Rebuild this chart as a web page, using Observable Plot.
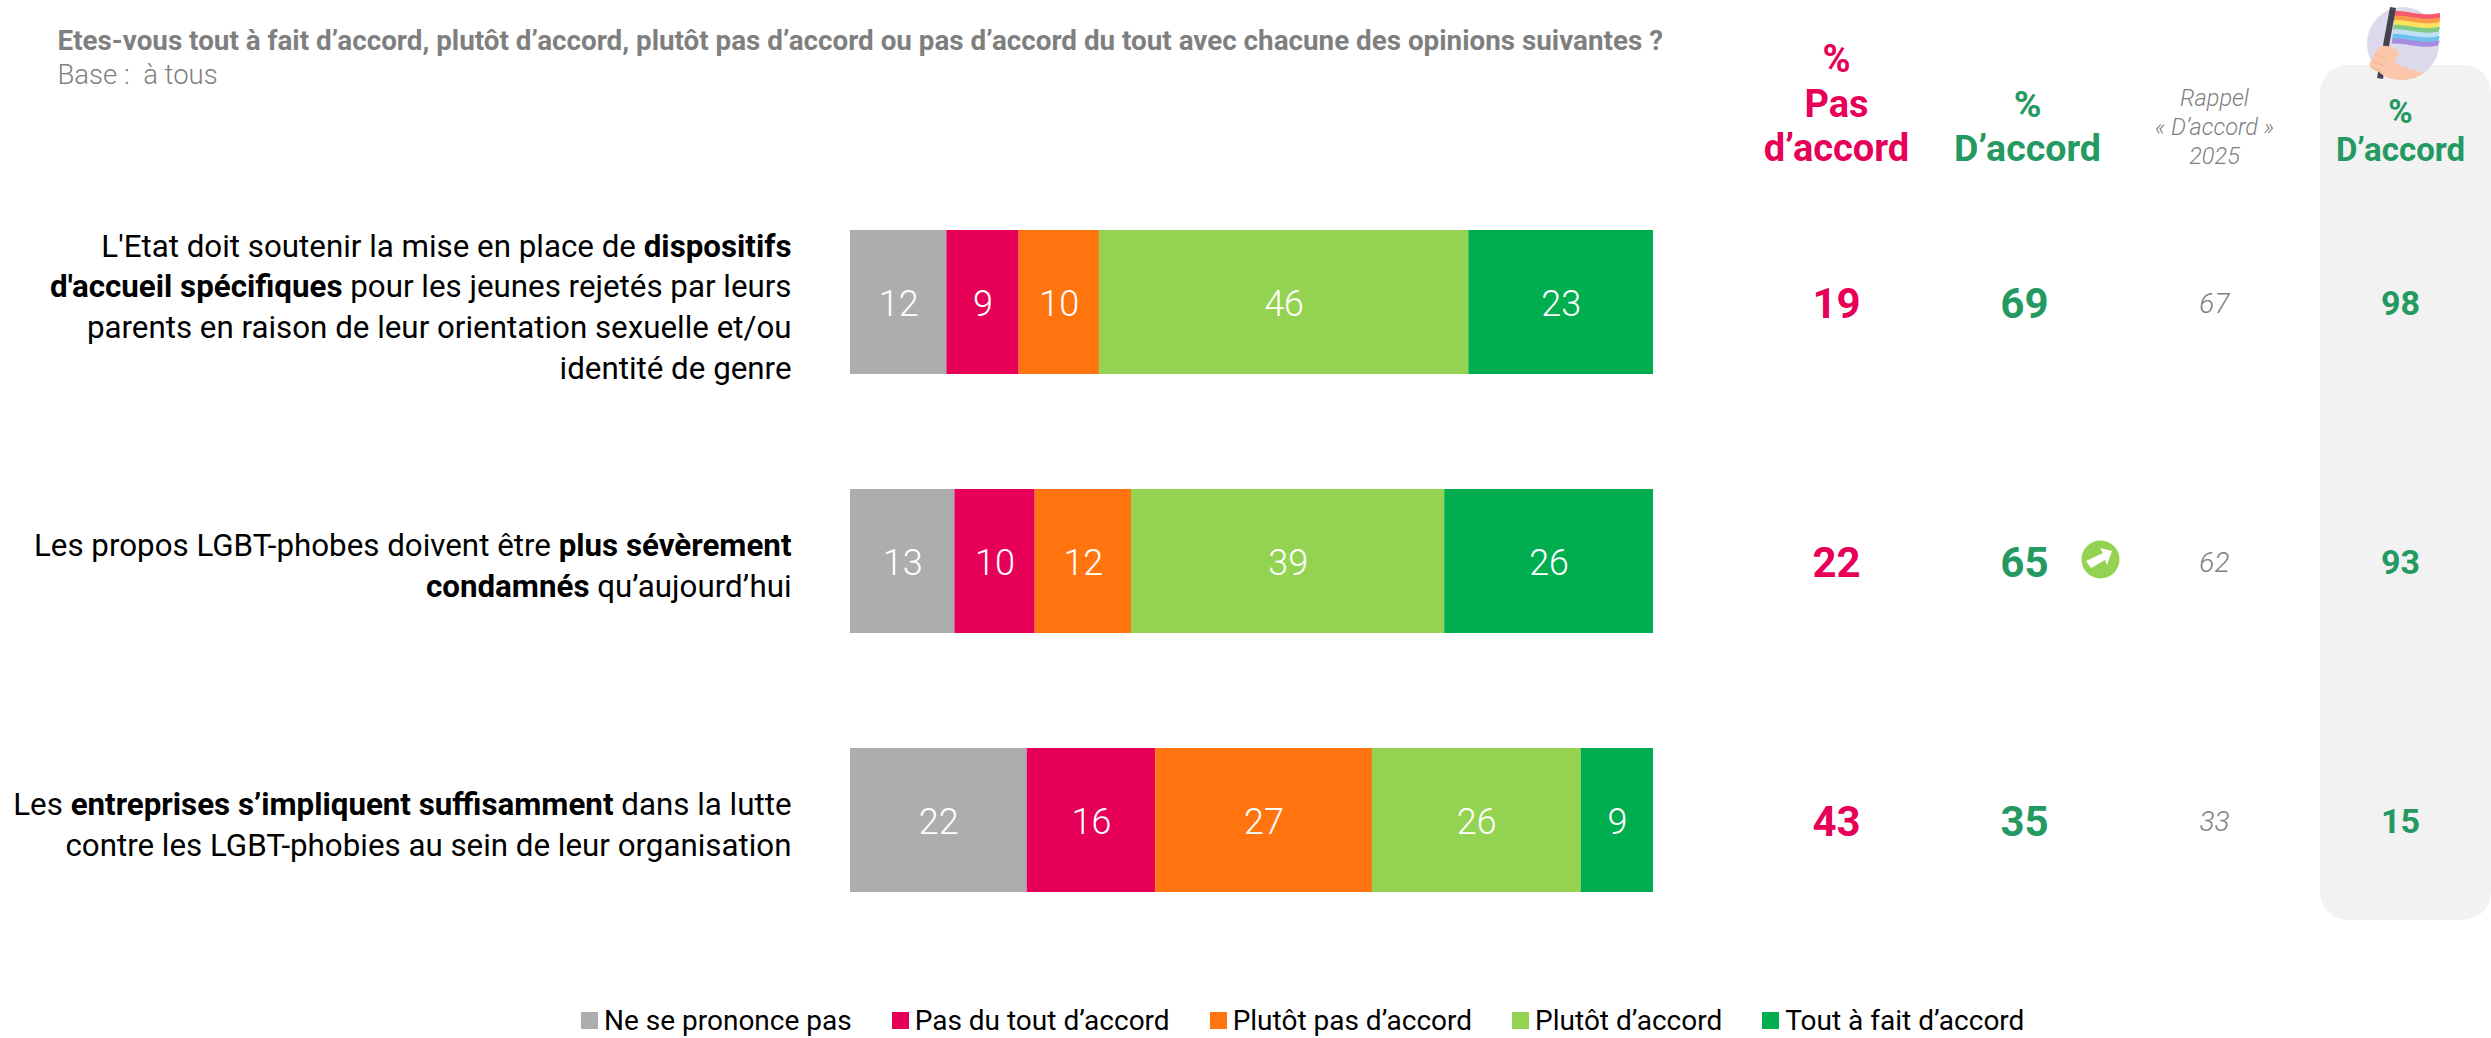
<!DOCTYPE html>
<html><head><meta charset="utf-8">
<script src="https://cdn.jsdelivr.net/npm/d3@7"></script>
<script src="https://cdn.jsdelivr.net/npm/@observablehq/plot@0.6"></script>
<style>
html,body{margin:0;padding:0;background:#fff;overflow:hidden}
#wrap{position:relative;width:2491px;height:1038px}
#legend{position:absolute;left:581px;top:1004px;white-space:nowrap}
#legend > span{margin-right:40px !important}
#legend > span > svg{margin-right:6px !important}
</style></head><body><div id="wrap"></div>
<script>
const questions = [
 "L'Etat doit soutenir la mise en place de **dispositifs**\n**d'accueil spécifiques** pour les jeunes rejetés par leurs\nparents en raison de leur orientation sexuelle et/ou\nidentité de genre",
 "Les propos LGBT-phobes doivent être **plus sévèrement**\n**condamnés** qu’aujourd’hui",
 "Les **entreprises s’impliquent suffisamment** dans la lutte\ncontre les LGBT-phobies au sein de leur organisation"
];
const categories = ["Ne se prononce pas","Pas du tout d’accord","Plutôt pas d’accord","Plutôt d’accord","Tout à fait d’accord"];
const colors = ["#ADADAD","#E60057","#FF740F","#94D351","#00AE50"];
const nspValues = [12,13,22];
const pasDuToutValues = [9,10,16];
const plutotPasValues = [10,12,27];
const plutotValues = [46,39,26];
const toutAFaitValues = [23,26,9];
const pasAccord = [19,22,43];
const accord = [69,65,35];
const rappel2025 = [67,62,33];
const accordLgbt = [98,93,15];
const evolution = [null,"up",null];
const title = "Etes-vous tout à fait d’accord, plutôt d’accord, plutôt pas d’accord ou pas d’accord du tout avec chacune des opinions suivantes ?";
const subtitle = "Base :  à tous";

const FONT = "Roboto, sans-serif";
const series = [nspValues,pasDuToutValues,plutotPasValues,plutotValues,toutAFaitValues];
const stacked = categories.flatMap((c,i)=>questions.map((q,j)=>({q,cat:c,value:series[i][j]})));
const rows = questions.map((q,j)=>({q,pas:pasAccord[j],acc:accord[j],rap:rappel2025[j],lgbt:accordLgbt[j],evo:evolution[j]}));

const panel = ()=>{
  const s = d3.create("svg:g");
  s.append("rect").attr("x",2320).attr("y",65).attr("width",171).attr("height",855).attr("rx",28).attr("fill","#F2F2F2");
  return s.node();
};
const flag = ()=>{
  const g = d3.create("svg:g");
  g.append("ellipse").attr("cx",2403).attr("cy",43.5).attr("rx",36).attr("ry",36.5).attr("fill","#DCD9EC");
  const stripes = ["#F9596B","#FC9A4B","#FBE35E","#7FCB86","#BFE0F4","#6FBFEF","#A78BE0"];
  stripes.forEach((c,i)=>{
    const y=11+i*4.6;
    g.append("path").attr("d",`M${2395-i*0.4} ${y} C2408 ${y-1},2420 ${y+6},2440 ${y+2} L${2440-i*0.4} ${y+7} C2420 ${y+11},2408 ${y+4},${2394-i*0.4} ${y+5}Z`).attr("fill",c);
  });
  g.append("path").attr("d","M2390 7 L2396 8 L2383 79 L2377 78Z").attr("fill","#45434F");
  g.append("path").attr("d","M2381 46 C2389 45,2397 49,2399 53 C2397 58,2394 62,2396 64 C2405 68,2417 70,2424 73 C2416 78,2408 80,2401 80 C2391 80,2384 77,2379 72 C2373 70,2368 67,2370 63 C2372 58,2376 50,2381 46Z").attr("fill","#FBC6A9");
  g.append("path").attr("d","M2375 54 L2386 59 M2372 61 L2384 66 M2371 67 L2381 72").attr("stroke","#F2AE8F").attr("stroke-width",1).attr("fill","none");
  return g.node();
};
const arrow = (index,{y})=>{
  const g = d3.create("svg:g");
  const j = evolution.indexOf("up");
  const bw = typeof y.bandwidth==="function" ? y.bandwidth() : y.bandwidth;
  g.attr("transform",`translate(2100,${y(questions[j])+bw/2-2})`);
  g.append("path").attr("d","M-14 2 L3 -6 L0 -11 L12 -8 L7 6 L5 1 L-9 9Z").attr("fill","#fff");
  return g.node();
};

const plot = Plot.plot({
  width:2491,height:1038,margin:0,
  style:{fontFamily:FONT,background:"#fff"},
  x:{domain:[0,100],range:[850,1653],axis:null},
  y:{domain:questions,range:[115.5,1007.5],padding:0.444,axis:null},
  color:{domain:categories,range:colors},
  marks:[
    panel,
    flag,
    Plot.barX(stacked,{x:"value",y:"q",fill:"cat",order:null}),
    Plot.text(stacked,Plot.stackX({x:"value",y:"q",text:"value",order:null,fill:"#fff",fontSize:36,fontWeight:300,dy:2})),
    Plot.text(rows,{y:"q",text:"q",frameAnchor:"left",dx:791,dy:2,textAnchor:"end",fontSize:31.3,lineHeight:1.3,fill:"#000",fontWeight:400,className:"qlabel"}),
    Plot.text(rows,{y:"q",text:"pas",frameAnchor:"left",dx:1836,dy:2,textAnchor:"middle",fontSize:42,fontWeight:700,fill:"#E60057"}),
    Plot.text(rows,{y:"q",text:"acc",frameAnchor:"left",dx:2024,dy:2,textAnchor:"middle",fontSize:42,fontWeight:700,fill:"#249962"}),
    Plot.text(rows,{y:"q",text:"rap",frameAnchor:"left",dx:2214,dy:2,textAnchor:"middle",fontSize:28,fontWeight:300,fontStyle:"italic",fill:"#7F7F7F"}),
    Plot.text(rows,{y:"q",text:"lgbt",frameAnchor:"left",dx:2400,dy:2,textAnchor:"middle",fontSize:34,fontWeight:700,fill:"#249962"}),
    Plot.dot(rows.filter(d=>d.evo),{y:"q",frameAnchor:"left",dx:2100,dy:-2,r:19,fill:"#94D351"}),
    arrow,
    Plot.text([title],{text:d=>d,frameAnchor:"top-left",dx:57,dy:30,textAnchor:"start",lineAnchor:"top",fontSize:27.8,fontWeight:700,fill:"#7F7F7F"}),
    Plot.text([subtitle],{text:d=>d,frameAnchor:"top-left",dx:57,dy:64,textAnchor:"start",lineAnchor:"top",fontSize:27.5,fontWeight:300,fill:"#7F7F7F"}),
    Plot.text(["%\nPas\nd’accord"],{text:d=>d,frameAnchor:"top-left",dx:1836,dy:40,textAnchor:"middle",lineAnchor:"top",fontSize:38,lineHeight:1.17,fontWeight:700,fill:"#E60057"}),
    Plot.text(["%\nD’accord"],{text:d=>d,frameAnchor:"top-left",dx:2027,dy:85,textAnchor:"middle",lineAnchor:"top",fontSize:37.5,lineHeight:1.18,fontWeight:700,fill:"#249962"}),
    Plot.text(["Rappel\n« D’accord »\n2025"],{text:d=>d,frameAnchor:"top-left",dx:2214,dy:85,textAnchor:"middle",lineAnchor:"top",fontSize:23.5,lineHeight:1.23,fontWeight:300,fontStyle:"italic",fill:"#7F7F7F"}),
    Plot.text(["%\nD’accord"],{text:d=>d,frameAnchor:"top-left",dx:2400,dy:96,textAnchor:"middle",lineAnchor:"top",fontSize:33,lineHeight:1.15,fontWeight:700,fill:"#249962"})
  ]
});
// bold runs inside the question labels
d3.select(plot).selectAll(".qlabel text").each(function(){
  const t=d3.select(this);
  t.selectAll("tspan").nodes().forEach(n=>{
    const parts=n.textContent.split("**");
    n.textContent="";
    parts.forEach((p,i)=>{ if(p) d3.select(n).append("tspan").attr("font-weight",i%2?700:null).text(p); });
  });
});
const wrap=document.getElementById("wrap");
wrap.appendChild(plot);
const lg=plot.legend("color",{swatchSize:17,swatchWidth:17,swatchHeight:17,style:{fontFamily:FONT,fontSize:"28px",color:"#000",margin:0}});
lg.id="legend";
wrap.appendChild(lg);
</script></body></html>
